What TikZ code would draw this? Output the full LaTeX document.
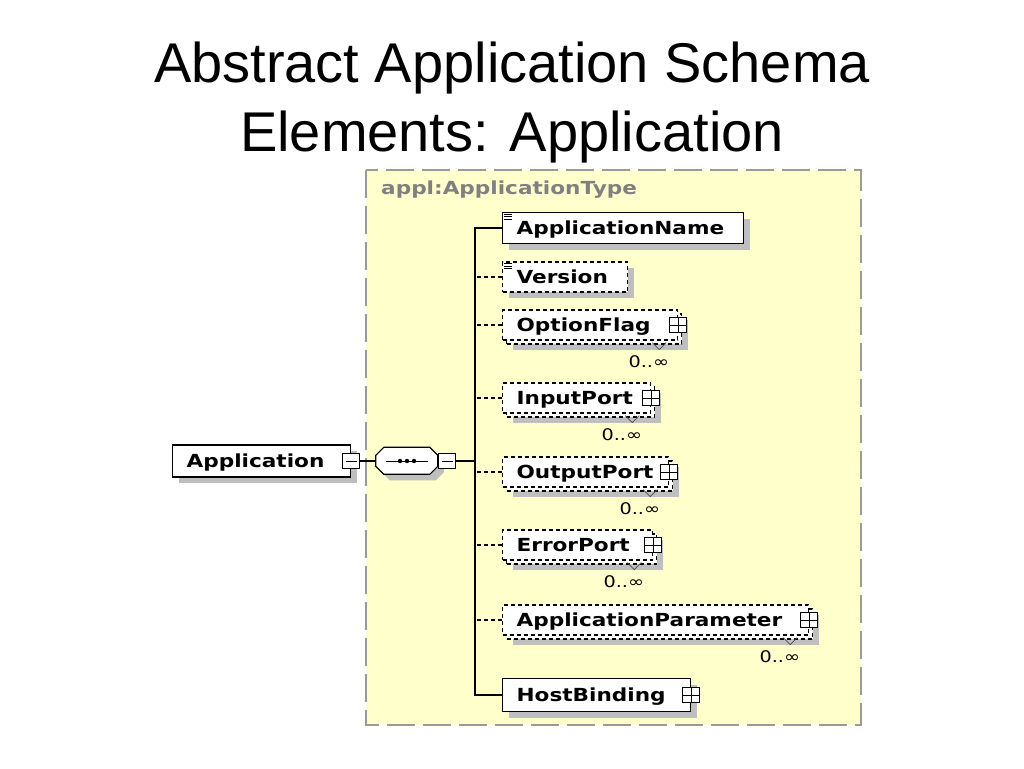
\documentclass[tikz,border=0pt]{standalone}
\usepackage{fontspec}
\setmainfont{Liberation Sans}
\newfontfamily\schemafont[FakeStretch=1.2]{DejaVu Sans}
\usetikzlibrary{shadows}
\definecolor{typebg}{HTML}{FFFFCC}
\definecolor{typeline}{HTML}{9A9A9A}
\tikzset{
  title/.style={anchor=base, font=\fontsize{56}{60}\selectfont},
  elem/.style={draw, fill=white, line width=1.2pt, anchor=west, minimum height=31, inner xsep=14, inner ysep=0, text height=13, text depth=0, align=left, font=\schemafont\bfseries\fontsize{18}{20}\selectfont, execute at begin node={\hyphenpenalty=10000}},
  opt/.style={dash pattern=on 4pt off 3pt},
  one/.style={drop shadow={shadow xshift=6pt, shadow yshift=-6pt, fill=black!25, opacity=1}},
  many/.style={minimum height=30, general shadow={shadow xshift=10pt, shadow yshift=-10pt, fill=black!25}, general shadow={shadow xshift=4pt, shadow yshift=-4pt, fill=white, draw, line width=1.2pt, dash pattern=on 4pt off 3pt}},
  pm/.style={draw, fill=white, line width=0.9pt, minimum width=17, minimum height=15, inner sep=0},
  plus/.style={pm, path picture={\draw[line width=0.9pt] (path picture bounding box.north) -- (path picture bounding box.south) (path picture bounding box.west) -- (path picture bounding box.east);}},
  minus/.style={pm, path picture={\draw[line width=0.9pt] ([xshift=3]path picture bounding box.west) -- ([xshift=-3]path picture bounding box.east);}},
  card/.style={anchor=east, inner sep=0, font=\schemafont\fontsize{16}{17}\selectfont},
  chev/.style={black!70, line width=0.8pt},
  doclines/.style={line width=0.6pt},
  conn/.style={line width=1.2pt},
  seqbox/.style={minimum width=62, minimum height=27, inner sep=0},
  octagon/.style={insert path={++(8,0) -- ++(46,0) -- ++(8,8) -- ++(0,11) -- ++(-8,8) -- ++(-46,0) -- ++(-8,-8) -- ++(0,-11) -- cycle}},
}

\begin{document}
\begin{tikzpicture}[x=1pt, y=-1pt]
		%%%%% START %%%%%
		\useasboundingbox (0,0) rectangle (1024,768);
		
		\node[title] (title1) at (512,82) {Abstract Application Schema};
		\node[title] (title2) at (512,151) {Elements: Application};
		
		\draw[typeline, fill=typebg, line width=1.5pt, dash pattern=on 28pt off 8pt] (366,170) rectangle (861,725);
		\node[anchor=west, inner sep=0, text=black!50, font=\schemafont\bfseries\fontsize{18}{20}\selectfont] (typename) at (381,190) {appl:ApplicationType};
		
		\node[elem, one, text width=150, minimum height=32] (appl) at (172,461) {Application};
		\node[minus] (applpm) at (appl.east) {};
		
		\node[seqbox] (seq) at (407,461) {};
		\fill[black!25] ([shift={(6,6)}]seq.north west) [octagon];
		\draw[fill=white, line width=1.2pt] (seq.north west) [octagon];
		\draw[line width=1pt] ([xshift=10]seq.west) -- ([xshift=-10]seq.east);
		\fill ([xshift=-7]seq.center) circle (2.2);
		\fill (seq.center) circle (2.2);
		\fill ([xshift=7]seq.center) circle (2.2);
		\node[minus, anchor=west] (seqpm) at (seq.east) {};
		\coordinate (fork) at (475,461);
		
		\node[elem, one, text width=213] (appname) at (502,228) {ApplicationName};
		\draw[doclines] ([shift={(2,2)}]appname.north west) -- ++(8,0) ++(-8,2.5) -- ++(8,0) ++(-8,2.5) -- ++(8,0);
		
		\node[elem, one, opt, text width=97, minimum height=30] (version) at (502,277) {Version};
		\draw[doclines] ([shift={(2,2)}]version.north west) -- ++(8,0) ++(-8,2.5) -- ++(8,0) ++(-8,2.5) -- ++(8,0);
		
		\node[elem, many, opt, text width=147] (optflag) at (502,325) {OptionFlag};
		\node[plus] (optflagpm) at (optflag.east) {};
		\draw[chev] ([shift={(-26,2)}]optflag.south east) -- ++(7,7) -- ++(7,-7);
		\node[card] (optflagn) at ([shift={(-9,21)}]optflag.south east) {0..∞};
		
		\node[elem, many, opt, text width=120] (inport) at (502,398) {InputPort};
		\node[plus] (inportpm) at (inport.east) {};
		\draw[chev] ([shift={(-26,2)}]inport.south east) -- ++(7,7) -- ++(7,-7);
		\node[card] (inportn) at ([shift={(-9,21)}]inport.south east) {0..∞};
		
		\node[elem, many, opt, text width=138] (outport) at (502,472) {OutputPort};
		\node[plus] (outportpm) at (outport.east) {};
		\draw[chev] ([shift={(-26,2)}]outport.south east) -- ++(7,7) -- ++(7,-7);
		\node[card] (outportn) at ([shift={(-9,21)}]outport.south east) {0..∞};
		
		\node[elem, many, opt, text width=122] (errport) at (502,545) {ErrorPort};
		\node[plus] (errportpm) at (errport.east) {};
		\draw[chev] ([shift={(-26,2)}]errport.south east) -- ++(7,7) -- ++(7,-7);
		\node[card] (errportn) at ([shift={(-9,21)}]errport.south east) {0..∞};
		
		\node[elem, many, opt, text width=278] (appparam) at (502,620) {ApplicationParameter};
		\node[plus] (appparampm) at (appparam.east) {};
		\draw[chev] ([shift={(-26,2)}]appparam.south east) -- ++(7,7) -- ++(7,-7);
		\node[card] (appparamn) at ([shift={(-9,21)}]appparam.south east) {0..∞};
		
		\node[elem, one, text width=160, minimum height=33] (host) at (502,695) {HostBinding};
		\node[plus] (hostpm) at (host.east) {};
		
		\draw[conn] (applpm.east) -- (seq.west);
		\draw[conn] (seqpm.east) -- (fork);
		\draw[conn] (appname.west) -| (fork) |- (host.west);
		\draw[conn, opt] (version.west) -- (version.west -| fork);
		\draw[conn, opt] (optflag.west) -- (optflag.west -| fork);
		\draw[conn, opt] (inport.west) -- (inport.west -| fork);
		\draw[conn, opt] (outport.west) -- (outport.west -| fork);
		\draw[conn, opt] (errport.west) -- (errport.west -| fork);
		\draw[conn, opt] (appparam.west) -- (appparam.west -| fork);
		
		%%%%% END %%%%%
\end{tikzpicture}
\end{document}
